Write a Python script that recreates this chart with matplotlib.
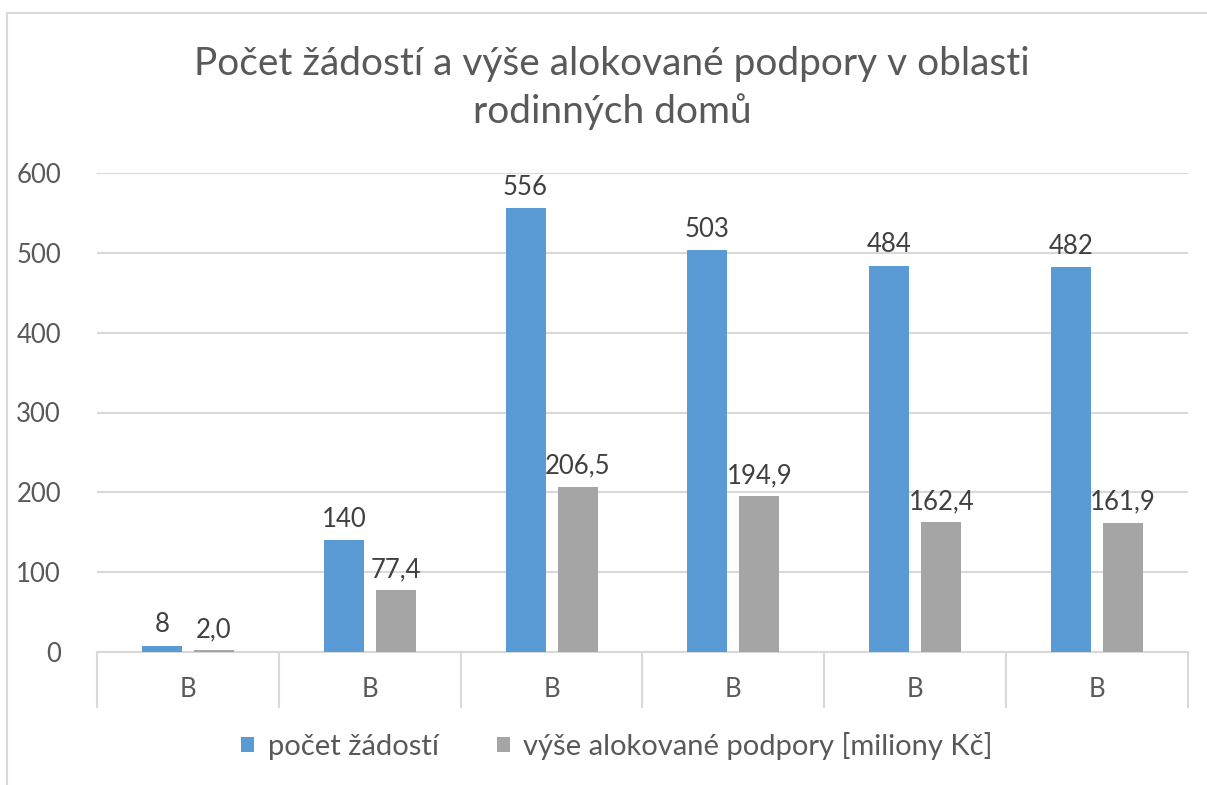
import matplotlib
matplotlib.use("Agg")
import matplotlib.pyplot as plt
from matplotlib.patches import Rectangle, Patch
import numpy as np

categories = ["B", "B", "B", "B", "B", "B"]
pocet_zadosti = [8, 140, 556, 503, 484, 482]
vyse_podpory = [2.0, 77.4, 206.5, 194.9, 162.4, 161.9]
series_names = ["počet žádostí", "výše alokované podpory [miliony Kč]"]
title = "Počet žádostí a výše alokované podpory v oblasti\nrodinných domů"
yticks = [0, 100, 200, 300, 400, 500, 600]

plt.rcParams['font.family'] = ['Lato', 'DejaVu Sans']
TXT = "#595959"
GRID = "#D9D9D9"
BLUE = "#5B9BD5"
GREY = "#A5A5A5"

W, H = 1207, 785
fig = plt.figure(figsize=(W / 100, H / 100), dpi=100)
ax = fig.add_axes([97 / W, 1 - 652 / H, (1188 - 97) / W, (652 - 173) / H])

x = np.arange(len(categories))
bw = 0.22
gap = 0.066
off = (bw + gap) / 2
b1 = ax.bar(x - off, pocet_zadosti, bw, color=BLUE, zorder=3)
b2 = ax.bar(x + off, vyse_podpory, bw, color=GREY, zorder=3)

for rect, v in zip(b1, pocet_zadosti):
    ax.annotate(f"{v}", (rect.get_x() + rect.get_width() / 2, rect.get_height()),
                xytext=(0, 6), textcoords="offset points", ha="center", va="bottom",
                fontsize=18.5, color="#404040")
for rect, v in zip(b2, vyse_podpory):
    ax.annotate(f"{v:.1f}".replace(".", ","), (rect.get_x() + rect.get_width() / 2, rect.get_height()),
                xytext=(0, 6), textcoords="offset points", ha="center", va="bottom",
                fontsize=18.5, color="#404040")

ax.set_xlim(-0.5, len(categories) - 0.5)
ax.set_ylim(0, 600)
ax.set_yticks(yticks)
ax.set_yticklabels([str(t) for t in yticks], fontsize=18.5, color=TXT)
ax.tick_params(axis="y", length=0, pad=26)
ax.yaxis.grid(True, color=GRID, linewidth=1.5, zorder=0)
ax.set_axisbelow(True)

ax.set_xticks(x)
ax.set_xticklabels(categories, fontsize=18.5, color=TXT)
ax.tick_params(axis="x", which="major", length=0, pad=18)
ax.set_xticks(np.arange(-0.5, len(categories), 1.0), minor=True)
ax.tick_params(axis="x", which="minor", length=40, color=GRID, width=1.5)

for s in ["left", "right", "top"]:
    ax.spines[s].set_visible(False)
ax.spines["bottom"].set_color(GRID)
ax.spines["bottom"].set_linewidth(1.5)

fig.text(612 / W, 1 - 88 / H, title, ha="center", va="center", fontsize=28,
         color=TXT, linespacing=1.38)

handles = [Patch(facecolor=BLUE), Patch(facecolor=GREY)]
fig.legend(handles, series_names, loc="center", bbox_to_anchor=(617 / W, 1 - 746 / H),
           ncol=2, frameon=False, fontsize=21, labelcolor=TXT,
           handlelength=0.45, handleheight=0.45, handletextpad=0.45, columnspacing=2.0)

border = Rectangle((7 / W, -0.1), 1.2, (1 - 13 / H) + 0.1, transform=fig.transFigure,
                   fill=False, edgecolor=GRID, linewidth=1.5, clip_on=False)
fig.patches.append(border)

fig.savefig("out.png", dpi=100, facecolor="white")
